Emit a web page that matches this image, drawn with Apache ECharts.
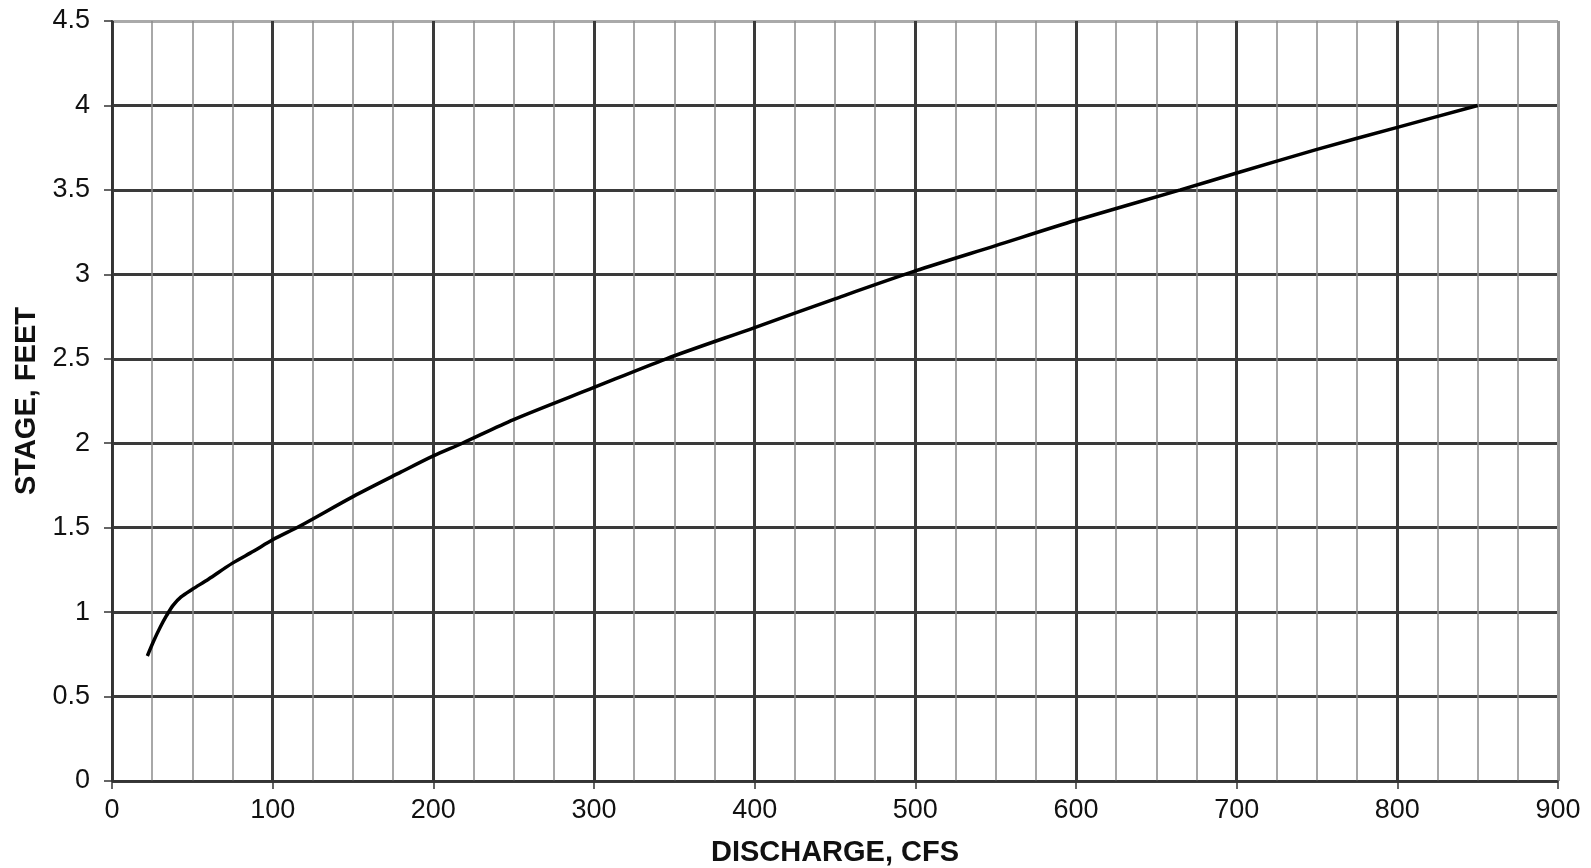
<!DOCTYPE html>
<html>
<head>
<meta charset="utf-8">
<style>
    html, body { margin: 0; padding: 0; background: #fff; }
    #chart { width: 1591px; height: 868px; }
</style>
</head>
<body>
<div id="chart"></div>
<script src="https://cdn.jsdelivr.net/npm/echarts@6/dist/echarts.min.js"></script>
<script>
    // rating curve
    const discharge = [22, 26, 30, 34, 38, 43, 50, 60, 75, 88, 100, 117, 150, 180, 200, 218, 250, 300, 345, 400, 450, 500, 550, 600, 665, 700, 750, 800, 850];
    const stage = [0.74, 0.83, 0.91, 0.98, 1.04, 1.09, 1.135, 1.195, 1.29, 1.36, 1.428, 1.51, 1.684, 1.83, 1.925, 2.0, 2.14, 2.33, 2.5, 2.685, 2.855, 3.02, 3.17, 3.32, 3.5, 3.6, 3.74, 3.87, 4.0];

    // grid lines: dark every major step, lighter at the outer edge
    const dark = '#3a3a3a';
    const xLineColors = [dark, dark, dark, dark, dark, dark, dark, dark, dark, '#999'];
    const yLineColors = [dark, dark, dark, dark, dark, dark, dark, dark, dark, '#aaa'];

    let myChart = echarts.init(document.getElementById('chart'));
    const font = '"Liberation Sans", Arial, sans-serif';

    myChart.setOption({
        animation: false,
        grid: { left: 112, right: 33, top: 21, bottom: 87, outerBoundsMode: 'none' },
        xAxis: {
            type: 'value', min: 0, max: 900, interval: 100,
            name: 'DISCHARGE, CFS', nameLocation: 'middle', nameGap: 57,
            nameTextStyle: { fontFamily: font, fontSize: 29, fontWeight: 'bold', color: '#111' },
            axisLine: { lineStyle: { color: '#333', width: 1.5 } },
            axisTick: { length: 8, lineStyle: { color: '#333', width: 1.5 } },
            axisLabel: { margin: 16, fontFamily: font, fontSize: 27, color: '#111' },
            splitLine: { lineStyle: { color: xLineColors, width: 3 } },
            minorTick: { show: false, splitNumber: 4 },
            minorSplitLine: { show: true, lineStyle: { color: '#8c8c8c', width: 1.5 } }
        },
        yAxis: {
            type: 'value', min: 0, max: 4.5, interval: 0.5,
            name: 'STAGE, FEET', nameLocation: 'middle', nameGap: 67,
            nameTextStyle: { fontFamily: font, fontSize: 29, fontWeight: 'bold', color: '#111' },
            axisLine: { show: true, lineStyle: { color: '#333', width: 2 } },
            axisTick: { show: true, length: 8, lineStyle: { color: '#333', width: 1.5 } },
            axisLabel: { margin: 22, fontFamily: font, fontSize: 27, color: '#111' },
            splitLine: { lineStyle: { color: yLineColors, width: 3 } }
        },
        series: [{
            type: 'line',
            data: discharge.map((q, i) => [q, stage[i]]),
            smooth: 0.3,
            showSymbol: false,
            lineStyle: { color: '#000', width: 3.5 }
        }]
    });
</script>
</body>
</html>
